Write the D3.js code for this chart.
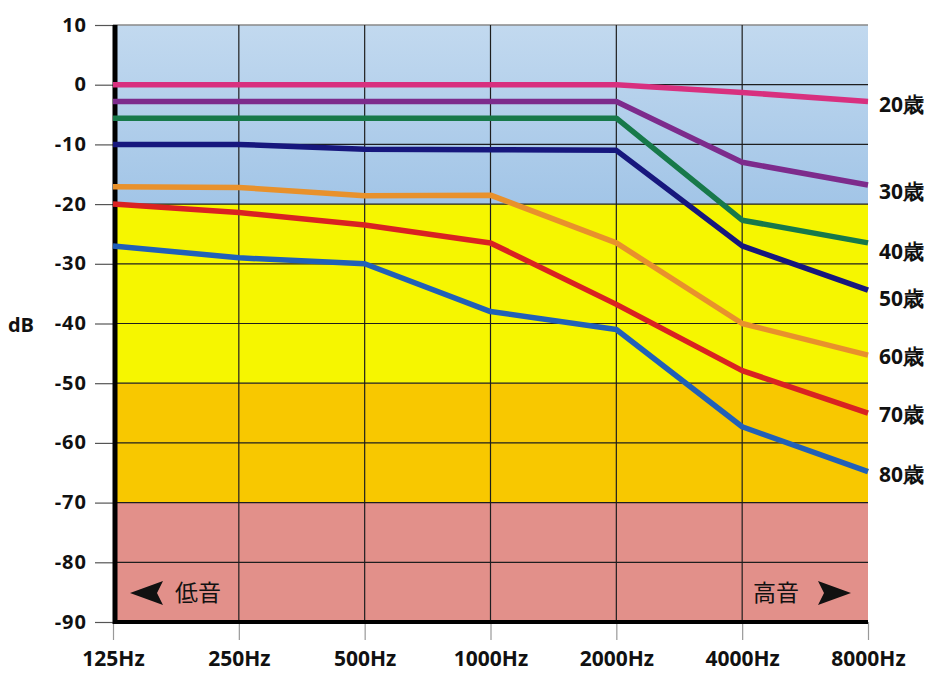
<!DOCTYPE html>
<html>
<head>
<meta charset="utf-8">
<script src="https://cdn.jsdelivr.net/npm/d3@7"></script>
<style>
  body { margin: 0; background: #fff; }
  text { font-family: "Open Sans", "Liberation Sans", sans-serif; }
</style>
</head>
<body>
<div id="chart"></div>
<script>
// frequencies (x categories)
var freqs = ["125Hz", "250Hz", "500Hz", "1000Hz", "2000Hz", "4000Hz", "8000Hz"];
var yTicks = [10, 0, -10, -20, -30, -40, -50, -60, -70, -80, -90];

// hearing level per age group (dB)
var age20 = [0, 0, 0, 0, 0, -1.3, -2.8];
var age30 = [-2.8, -2.8, -2.8, -2.8, -2.8, -13, -16.8];
var age40 = [-5.6, -5.6, -5.6, -5.6, -5.6, -22.7, -26.5];
var age50 = [-10, -10, -10.8, -10.9, -11, -27, -34.4];
var age60 = [-17.1, -17.2, -18.6, -18.5, -26.5, -40, -45.3];
var age70 = [-20, -21.4, -23.5, -26.5, -36.8, -47.9, -55];
var age80 = [-27, -29, -30, -38, -41, -57.3, -64.8];

var ageLabels = ["20歳", "30歳", "40歳", "50歳", "60歳", "70歳", "80歳"];
var ageColors = ["#d8307f", "#7d2b8c", "#17794a", "#17177d", "#e8912c", "#d92222", "#2160b8"];
var labelLevel = [-3, -17.6, -27.7, -35.5, -45.3, -55, -65];

// background bands
var bands = [
  {from: 10, to: -20, fill: "url(#blueGrad)"},
  {from: -20, to: -50, fill: "#f6f600"},
  {from: -50, to: -70, fill: "#f8c800"},
  {from: -70, to: -90, fill: "#e2908a"}
];

var series = [age20, age30, age40, age50, age60, age70, age80];

var width = 946, height = 685;
var mLeft = 113, mRight = 868, mTop = 25, mBottom = 622;

var svg = d3.select("#chart").append("svg")
  .attr("width", width)
  .attr("height", height);

var defs = svg.append("defs");
var grad = defs.append("linearGradient")
  .attr("id", "blueGrad")
  .attr("x1", 0).attr("y1", 0).attr("x2", 0).attr("y2", 1);
grad.append("stop").attr("offset", "0%").attr("stop-color", "#c2d9ef");
grad.append("stop").attr("offset", "100%").attr("stop-color", "#a2c5e7");

var x = d3.scalePoint().domain(freqs).range([mLeft, mRight]);
var y = d3.scaleLinear().domain([-90, 10]).range([mBottom, mTop]);

/* bands */
svg.selectAll(".band")
  .data(bands).enter()
  .append("rect")
  .attr("x", mLeft)
  .attr("width", mRight - mLeft)
  .attr("y", d => y(d.from))
  .attr("height", d => y(d.to) - y(d.from))
  .style("fill", d => d.fill);

/* grid */
svg.append("g")
  .selectAll("line")
  .data(yTicks.slice(1, -1)).enter()
  .append("line")
  .attr("x1", mLeft).attr("x2", mRight)
  .attr("y1", d => y(d)).attr("y2", d => y(d))
  .style("stroke", "#1e1e1e").style("stroke-width", 1.2);

svg.append("line")
  .attr("x1", mLeft).attr("x2", mRight)
  .attr("y1", y(10)).attr("y2", y(10))
  .style("stroke", "#888").style("stroke-width", 1.5);

svg.append("g")
  .selectAll("line")
  .data(freqs.slice(1, -1)).enter()
  .append("line")
  .attr("x1", d => x(d)).attr("x2", d => x(d))
  .attr("y1", mTop).attr("y2", mBottom)
  .style("stroke", "#1e1e1e").style("stroke-width", 1.2);

/* y axis ticks + labels */
var yAxis = d3.axisLeft(y).tickValues(yTicks).tickSize(18).tickPadding(8)
  .tickFormat(d => String(d));
var gy = svg.append("g")
  .attr("transform", `translate(${mLeft},0)`)
  .call(yAxis);
gy.select(".domain").remove();
gy.selectAll(".tick line").style("stroke", "#555").style("stroke-width", 1.2);
gy.selectAll(".tick text")
  .style("font-size", "20px").style("font-weight", "bold").style("fill", "#111")
  .style("letter-spacing", "1px")
  .attr("dy", "0.3em");

/* x axis ticks + labels */
var xAxis = d3.axisBottom(x).tickSize(18).tickPadding(11);
var gx = svg.append("g")
  .attr("transform", `translate(0,${mBottom})`)
  .call(xAxis);
gx.select(".domain").remove();
gx.selectAll(".tick line").style("stroke", "#999").style("stroke-width", 1.2);
gx.selectAll(".tick text")
  .style("font-size", "21px").style("font-weight", "bold").style("fill", "#111");

/* thick frame */
svg.append("line")
  .attr("x1", mLeft + 2).attr("x2", mLeft + 2)
  .attr("y1", mTop).attr("y2", mBottom + 2)
  .style("stroke", "#000").style("stroke-width", 5);
svg.append("line")
  .attr("x1", mLeft).attr("x2", mRight)
  .attr("y1", mBottom).attr("y2", mBottom)
  .style("stroke", "#000").style("stroke-width", 4);

svg.append("text")
  .attr("x", 21).attr("y", 332)
  .attr("text-anchor", "middle")
  .style("font-size", "20px").style("font-weight", "bold").style("fill", "#111")
  .text("dB");

/* lines */
var line = d3.line()
  .x((d, i) => x(freqs[i]))
  .y(d => y(d));

svg.append("g")
  .selectAll("path")
  .data(series).enter()
  .append("path")
  .attr("d", d => line(d))
  .style("fill", "none")
  .style("stroke", (d, i) => ageColors[i])
  .style("stroke-width", 5.5)
  .style("stroke-linejoin", "round");

/* age labels */
svg.append("g")
  .selectAll("text")
  .data(ageLabels).enter()
  .append("text")
  .attr("x", 879)
  .attr("y", (d, i) => y(labelLevel[i]) + 9)
  .style("font-size", "21px").style("font-weight", "bold").style("fill", "#111")
  .text(d => d);

/* low / high markers */
svg.append("path")
  .attr("d", "M130,593 L163,581 L157,593 L163,605 Z")
  .style("fill", "#111");
svg.append("text")
  .attr("x", 175).attr("y", 601)
  .style("font-family", "'Noto Sans CJK JP'")
  .style("font-size", "23px").style("fill", "#111")
  .text("低音");
svg.append("text")
  .attr("x", 753).attr("y", 601)
  .style("font-family", "'Noto Sans CJK JP'")
  .style("font-size", "23px").style("fill", "#111")
  .text("高音");
svg.append("path")
  .attr("d", "M851,593 L818,581 L824,593 L818,605 Z")
  .style("fill", "#111");
</script>
</body>
</html>
